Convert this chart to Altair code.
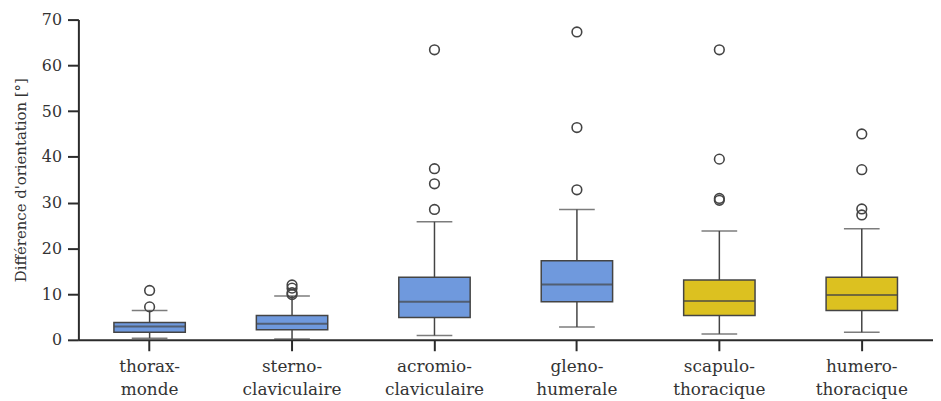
import altair as alt
import pandas as pd

categories = ["thorax-monde", "sterno-claviculaire", "acromio-claviculaire",
              "gleno-humerale", "scapulo-thoracique", "humero-thoracique"]
q1 = [1.65, 2.2, 4.9, 8.3, 5.3, 6.4]
median = [2.9, 3.5, 8.3, 12.1, 8.5, 9.8]
q3 = [3.8, 5.3, 13.7, 17.3, 13.1, 13.7]
whisker_lo = [0.35, 0.2, 0.95, 2.8, 1.3, 1.65]
whisker_hi = [6.4, 9.6, 25.8, 28.5, 23.8, 24.3]
box_colors = ["#6f99dd", "#6f99dd", "#6f99dd", "#6f99dd", "#dcc120", "#dcc120"]

outlier_cats = (["thorax-monde"] * 2 + ["sterno-claviculaire"] * 4 +
                ["acromio-claviculaire"] * 4 + ["gleno-humerale"] * 3 +
                ["scapulo-thoracique"] * 4 + ["humero-thoracique"] * 4)
outlier_vals = [10.8, 7.2,
                12.0, 11.3, 10.3, 9.9,
                63.4, 37.4, 34.1, 28.5,
                67.3, 46.4, 32.8,
                63.4, 39.5, 30.9, 30.5,
                45.0, 37.2, 28.6, 27.3]

boxes = pd.DataFrame({"cat": categories, "q1": q1, "med": median, "q3": q3,
                      "lo": whisker_lo, "hi": whisker_hi, "color": box_colors})
outliers = pd.DataFrame({"cat": outlier_cats, "value": outlier_vals})

font = "DejaVu Serif"
line_col = "#444444"
x_enc = alt.X("cat:N", sort=categories, title=None,
              scale=alt.Scale(paddingInner=0, paddingOuter=0),
              axis=alt.Axis(labelAngle=0, labelExpr="[split(datum.label, '-')[0] + '-', split(datum.label, '-')[1]]",
                            labelLineHeight=23, tickSize=11, labelPadding=8,
                            labelFontSize=17, domainWidth=2, tickWidth=2))
y_scale = alt.Scale(domain=[0, 70], nice=False)
y_axis = alt.Axis(values=[0, 10, 20, 30, 40, 50, 60, 70], tickSize=11, labelPadding=6,
                  labelFontSize=16, domainWidth=2, tickWidth=2, titlePadding=13,
                  titleFontSize=15, title="Différence d'orientation [°]")

base = alt.Chart(boxes)

whiskers = base.mark_rule(color=line_col, strokeWidth=1.5).encode(
    x=x_enc, y=alt.Y("lo:Q", scale=y_scale, axis=y_axis), y2="hi:Q")
cap_lo = base.mark_tick(color=line_col, size=36, thickness=1.5).encode(
    x=alt.X("cat:N", sort=categories), y=alt.Y("lo:Q"))
cap_hi = base.mark_tick(color=line_col, size=36, thickness=1.5).encode(
    x=alt.X("cat:N", sort=categories), y=alt.Y("hi:Q"))
box = base.mark_bar(size=72, stroke=line_col, strokeWidth=1.5).encode(
    x=alt.X("cat:N", sort=categories), y=alt.Y("q1:Q"), y2="q3:Q",
    color=alt.Color("color:N", scale=None))
med = base.mark_tick(color=line_col, size=72, thickness=2).encode(
    x=alt.X("cat:N", sort=categories), y=alt.Y("med:Q"))
pts = alt.Chart(outliers).mark_point(shape="circle", filled=False, size=95,
                                     color=line_col, strokeWidth=1.6, opacity=1).encode(
    x=alt.X("cat:N", sort=categories), y=alt.Y("value:Q"))

chart = alt.layer(whiskers, cap_lo, cap_hi, box, med, pts).properties(
    width=862, height=323,
    autosize=alt.AutoSizeParams(type="none"),
    padding={"left": 71, "top": 10, "right": 0, "bottom": 60},
).configure_view(stroke=None).configure_axis(
    grid=False, domainColor="#2b2b2b", tickColor="#2b2b2b",
    labelFont=font, titleFont=font, titleFontWeight="normal",
    labelColor="#333333", titleColor="#333333",
)

chart.save("out.html", embed_options={"renderer": "svg", "actions": False})
